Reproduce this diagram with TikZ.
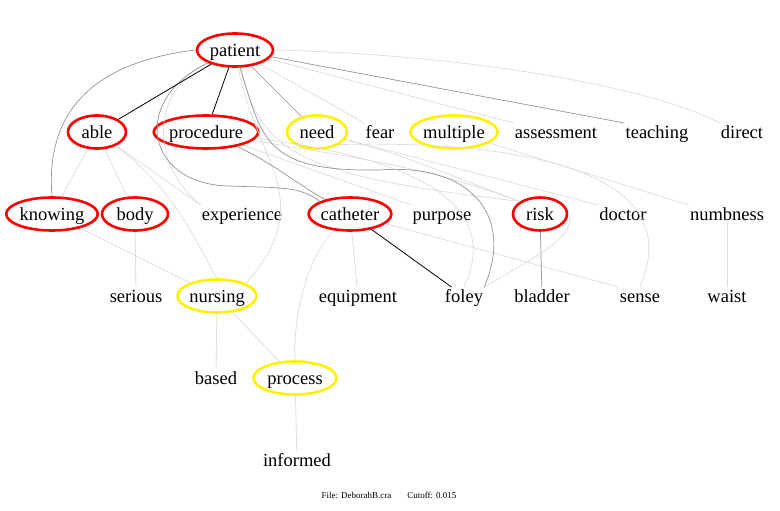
\documentclass[tikz,border=0pt]{standalone}
\usepackage{fontspec}
\setmainfont{Liberation Serif}
\usetikzlibrary{shapes.geometric}
\begin{document}
\begin{tikzpicture}[x=1pt,y=-1pt,
  word/.style={font=\fontsize{18.5}{20}\selectfont, inner sep=1pt, text height=14.5pt, text depth=1pt},
  ring/.style={word, ellipse, inner sep=0pt, minimum height=33pt, line width=2.6pt},
  redring/.style={ring, draw=red},
  yelring/.style={ring, draw=yellow},
  dk/.style={draw=black, line width=0.8pt},
  md/.style={draw=black!42, line width=0.7pt},
  lt/.style={draw=black!14, line width=0.7pt}]
\useasboundingbox (0,0) rectangle (780,511);
% nodes
\node[redring, minimum width=76pt] (patient) at (235,50) {patient};
\node[redring, minimum width=58pt] (able) at (97,132) {able};
\node[redring, minimum width=99pt] (procedure) at (206,132) {procedure};
\node[yelring, minimum width=60pt] (need) at (317,132) {need};
\node[word] (fear) at (380,132) {fear};
\node[yelring, minimum width=84pt] (multiple) at (454,132) {multiple};
\node[word] (assessment) at (556,132) {assessment};
\node[word] (teaching) at (657,132) {teaching};
\node[word] (direct) at (742,132) {direct};
\node[redring, minimum width=90pt] (knowing) at (52,214) {knowing};
\node[redring, minimum width=66pt] (body) at (135,214) {body};
\node[word] (experience) at (242,214) {experience};
\node[redring, minimum width=81pt] (catheter) at (350,214) {catheter};
\node[word] (purpose) at (442,214) {purpose};
\node[redring, minimum width=54pt] (risk) at (540,214) {risk};
\node[word] (doctor) at (623,214) {doctor};
\node[word] (numbness) at (727,214) {numbness};
\node[word] (serious) at (136,296) {serious};
\node[yelring, minimum width=79pt] (nursing) at (217,296) {nursing};
\node[word] (equipment) at (358,296) {equipment};
\node[word] (foley) at (464,296) {foley};
\node[word] (bladder) at (542,296) {bladder};
\node[word] (sense) at (640,296) {sense};
\node[word] (waist) at (727,296) {waist};
\node[word] (based) at (216,378) {based};
\node[yelring, minimum width=83pt] (process) at (295,378) {process};
\node[word] (informed) at (297,460) {informed};
\node[font=\fontsize{9}{10}\selectfont, inner sep=0pt] (footer) at (389,495) {File: DeborahB.cra\hspace{16pt}Cutoff: 0.015};
% light edges
\draw[lt] (patient.east) .. controls (480,55) and (660,90) .. (direct.north west);
\draw[lt] (patient) -- (assessment.north west);
\draw[lt] (patient) -- (fear.north west);
\draw[lt] (patient) .. controls (150,90) and (150,165) .. (experience.north west);
\draw[lt] (patient) .. controls (255,160) and (320,200) .. (nursing.north east);
\draw[lt] (patient) .. controls (262,150) and (290,175) .. (risk.north west);
\draw[lt] (able) -- (knowing);
\draw[lt] (able) -- (body);
\draw[lt] (able) -- (experience.north west);
\draw[lt] (able) .. controls (175,190) and (195,240) .. (nursing.north);
\draw[lt] (body) -- (serious);
\draw[lt] (knowing) -- (nursing);
\draw[lt] (nursing) -- (based);
\draw[lt] (nursing) -- (process);
\draw[lt] (process) -- (informed);
\draw[lt] (catheter) .. controls (305,260) and (293,320) .. (process.north);
\draw[lt] (catheter) -- (equipment);
\draw[lt] (catheter) -- (sense.north west);
\draw[lt] (procedure) -- (purpose.north west);
\draw[lt] (procedure) to[out=-10,in=160] (risk.north west);
\draw[lt] (need) to[out=-15,in=160] (risk.north west);
\draw[lt] (need) -- (doctor.north west);
\draw[lt] (multiple) -- (numbness.north west);
\draw[lt] (need.south east) .. controls (520,140) and (690,170) .. (sense.north);
\draw[lt] (risk.east) .. controls (580,235) and (530,260) .. (foley.north east);
\draw[lt] (procedure) .. controls (430,160) and (500,210) .. (foley.north);
\draw[lt] (numbness) -- (waist);
% medium edges
\draw[md] (patient) -- (need);
\draw[md] (patient) -- (teaching.north west);
\draw[md] (patient.west) .. controls (95,62) and (45,110) .. (knowing.north);
\draw[md] (patient) .. controls (130,100) and (145,185) .. (230,186) .. controls (280,188) and (300,186) .. (catheter.north west);
\draw[md] (patient) .. controls (262,140) and (265,172) .. (380,170) .. controls (470,163) and (515,215) .. (foley.north east);
\draw[md] (procedure) to[out=-25,in=150] (catheter);
\draw[md] (risk) -- (bladder);
% dark edges
\draw[dk] (patient) -- (able);
\draw[dk] (patient) -- (procedure);
\draw[dk] (catheter) -- (foley);
\end{tikzpicture}
\end{document}
